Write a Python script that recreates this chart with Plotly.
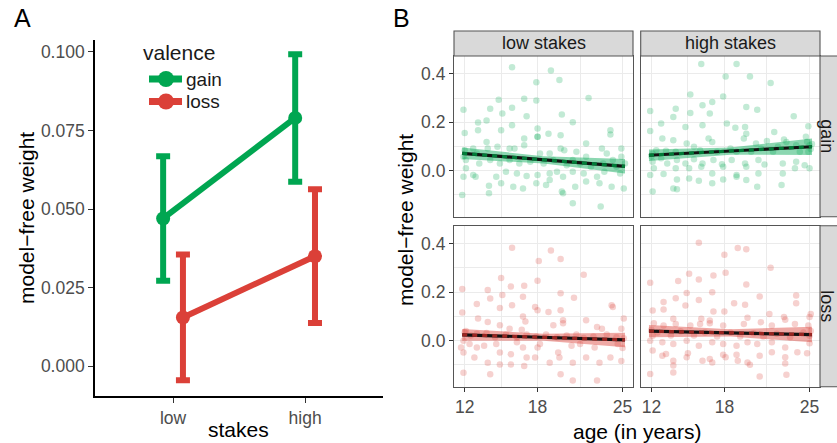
import plotly.graph_objects as go

W, H = 837, 443
FONT = "Liberation Sans, Arial, sans-serif"
GREEN = "#00A651"
RED = "#DB4038"
TICK_GREY = "#4D4D4D"


def fx(p):
    return p / W


def fy(p):
    return 1 - p / H


# ---------------- Panel A: mean model-free weight by stakes and valence
stakes = ["low", "high"]
stake_pos = [1, 2]
dodge = 0.075
gain_mean = [0.047, 0.079]
gain_err = [0.0198, 0.0203]
loss_mean = [0.0155, 0.035]
loss_err = [0.0200, 0.0213]

# ---------------- Panel B: individual weights against age, per facet
gain_low_pts = [
    (11.8, -0.10), (11.9, 0.252), (12.0, 0.156), (13.1, 0.199), (13.1, 0.167), (13.8, 0.208),
    (14.1, 0.256), (14.8, 0.293), (15.1, 0.236), (15.0, 0.167), (15.9, 0.427), (15.9, 0.26),
    (15.9, 0.188), (17.1, 0.225), (16.9, 0.297), (17.9, 0.366), (17.9, 0.29), (19.1, 0.414),
    (19.8, 0.375), (20.0, 0.232), (20.9, 0.20), (22.2, 0.30), (24.0, 0.167), (24.0, 0.15),
    (18.0, 0.174), (18.0, 0.14), (18.9, 0.153), (19.9, 0.147), (22.0, 0.112), (23.2, -0.148),
    (20.9, -0.134), (14.0, -0.093), (14.0, -0.062), (15.0, -0.052), (16.0, -0.066), (16.8, -0.073),
    (17.9, -0.052), (18.7, -0.059), (19.0, -0.038), (20.0, -0.086), (20.1, -0.093), (21.1, -0.066),
    (22.0, -0.045), (23.1, -0.052), (24.1, -0.066), (25.1, -0.073), (12.7, -0.018), (12.9, -0.025),
    (14.6, -0.025), (15.4, -0.004), (16.3, -0.011), (17.1, -0.022), (18.0, -0.018), (19.0, -0.011),
    (19.6, -0.004), (20.1, -0.025), (20.9, -0.004), (21.8, -0.011), (22.9, -0.025), (23.5, -0.004),
    (24.8, -0.011), (12.7, 0.092), (13.0, 0.071), (13.8, 0.119), (13.9, 0.092), (14.7, 0.099),
    (15.7, 0.092), (16.1, 0.092), (16.9, 0.133), (16.9, 0.105), (18.0, 0.14), (18.2, 0.071),
    (19.0, 0.071), (19.9, 0.092), (20.2, 0.085), (20.9, 0.044), (21.2, 0.078), (22.0, 0.058),
    (23.3, 0.092), (23.7, 0.071), (24.9, 0.092), (24.9, 0.058), (24.2, 0.044), (11.9, 0.058),
    (12.1, 0.044), (13.2, 0.03), (14.1, 0.044), (14.9, 0.03), (15.7, 0.044), (16.5, 0.03),
    (17.4, 0.037), (18.5, 0.03), (19.3, 0.044), (20.4, 0.023), (21.5, 0.03), (22.4, 0.016),
    (23.4, 0.03), (24.5, 0.016), (25.2, 0.03), (11.9, -0.025), (12.1, 0.01), (12.0, 0.085),
]

gain_high_pts = [
    (16.1, 0.441), (19.0, 0.441), (18.1, 0.389), (20.1, 0.389), (21.8, 0.362), (15.2, 0.315),
    (17.9, 0.307), (17.0, 0.284), (16.2, 0.27), (14.0, 0.256), (19.8, 0.263), (20.7, 0.252),
    (11.9, 0.247), (15.2, 0.238), (16.8, 0.236), (13.8, 0.222), (23.7, 0.225), (12.8, 0.195),
    (14.8, 0.181), (16.2, 0.188), (18.2, 0.195), (18.9, 0.178), (19.7, 0.181), (24.9, 0.184),
    (11.9, 0.164), (19.8, 0.153), (22.1, 0.16), (12.9, 0.133), (13.8, 0.126), (14.9, 0.112),
    (16.7, 0.133), (17.0, 0.119), (19.6, 0.133), (20.6, 0.112), (21.5, 0.123), (22.9, 0.129),
    (23.1, 0.119), (23.9, 0.105), (24.7, 0.14), (25.0, 0.105), (12.4, 0.085), (13.2, 0.082),
    (14.0, 0.078), (15.5, 0.099), (16.0, 0.085), (17.4, 0.078), (18.5, 0.092), (19.0, 0.078),
    (20.2, 0.078), (21.0, 0.092), (22.0, 0.078), (22.4, 0.099), (24.2, 0.078), (24.9, 0.078),
    (12.1, 0.037), (12.8, 0.051), (13.3, 0.03), (14.1, 0.044), (14.8, 0.03), (15.5, 0.047),
    (16.2, 0.03), (17.1, 0.044), (17.8, 0.027), (18.6, 0.044), (19.7, 0.03), (20.8, 0.044),
    (21.3, 0.026), (22.8, 0.03), (23.9, 0.037), (24.6, 0.023), (12.2, 0.01), (11.9, -0.018),
    (13.0, -0.014), (14.0, 0.01), (15.1, 0.01), (16.1, 0.016), (17.0, -0.011), (17.9, 0.016),
    (19.0, -0.018), (19.8, 0.016), (20.8, -0.011), (22.8, -0.011), (23.8, 0.01), (25.0, 0.01),
    (14.1, -0.036), (15.1, -0.032), (15.9, -0.041), (17.0, -0.052), (17.9, -0.036), (19.0, -0.025),
    (19.8, -0.038), (20.7, -0.066), (22.7, -0.059), (13.8, -0.073), (12.1, -0.086), (14.1, -0.077),
    (12.0, 0.06), (12.1, 0.07), (25.1, 0.09), (25.2, 0.11), (24.8, 0.12),
]

loss_low_pts = [
    (15.9, 0.383), (19.1, 0.372), (19.9, 0.337), (18.1, 0.328), (21.8, 0.272), (15.0, 0.258),
    (11.8, 0.213), (13.9, 0.209), (15.8, 0.223), (16.9, 0.226), (18.0, 0.247), (15.1, 0.188),
    (14.1, 0.174), (19.9, 0.195), (16.8, 0.181), (21.0, 0.177), (13.0, 0.151), (15.9, 0.146),
    (14.9, 0.135), (17.8, 0.139), (18.0, 0.125), (18.9, 0.118), (19.9, 0.125), (24.1, 0.146),
    (24.2, 0.139), (11.8, 0.116), (13.1, 0.091), (13.9, 0.077), (16.8, 0.10), (17.0, 0.079),
    (20.1, 0.084), (20.1, 0.072), (22.0, 0.084), (25.1, 0.091), (14.9, 0.063), (15.7, 0.049),
    (16.7, 0.045), (19.3, 0.063), (22.9, 0.056), (23.3, 0.049), (24.9, 0.049), (12.0, 0.035),
    (12.5, 0.021), (13.0, 0.028), (13.8, 0.031), (14.5, 0.014), (15.4, 0.025), (16.3, 0.014),
    (17.1, 0.025), (17.9, 0.017), (18.7, 0.025), (19.6, 0.014), (20.4, 0.021), (21.2, 0.025),
    (21.8, 0.011), (22.6, 0.017), (23.7, 0.025), (24.5, 0.014), (11.7, -0.028), (11.9, -0.049),
    (12.4, -0.014), (12.8, -0.07), (13.6, -0.021), (13.9, -0.091), (14.1, -0.139), (11.9, -0.132),
    (14.9, -0.049), (14.9, -0.098), (15.8, -0.056), (15.8, -0.098), (16.8, -0.028), (17.1, -0.07),
    (16.9, -0.105), (17.8, -0.07), (18.0, -0.028), (19.0, -0.091), (19.7, -0.049), (19.9, -0.139),
    (19.8, -0.07), (20.9, -0.091), (20.9, -0.164), (21.5, -0.014), (22.0, -0.07), (22.9, -0.164),
    (23.1, -0.091), (24.0, -0.07), (24.9, -0.084), (24.6, -0.014), (18.2, -0.014), (16.3, -0.007),
    (14.6, -0.014), (13.0, -0.028), (20.8, -0.021), (22.7, -0.028), (12.1, 0.04), (11.9, 0.0),
    (25.1, 0.01), (25.0, -0.03),
]

loss_high_pts = [
    (15.9, 0.404), (19.1, 0.382), (19.8, 0.377), (18.0, 0.354), (21.8, 0.301), (18.1, 0.28),
    (15.1, 0.276), (17.1, 0.269), (15.9, 0.252), (14.2, 0.246), (11.9, 0.239), (19.8, 0.232),
    (17.0, 0.20), (14.9, 0.196), (14.0, 0.175), (23.9, 0.186), (20.9, 0.182), (13.0, 0.159),
    (15.9, 0.168), (18.8, 0.154), (23.9, 0.154), (14.8, 0.145), (19.7, 0.148), (13.0, 0.128),
    (12.1, 0.124), (17.1, 0.12), (18.0, 0.12), (21.7, 0.11), (25.1, 0.11), (25.0, 0.097),
    (22.9, 0.097), (19.9, 0.094), (16.1, 0.09), (16.8, 0.083), (13.8, 0.09), (23.0, 0.086),
    (12.2, 0.072), (13.0, 0.062), (14.0, 0.069), (15.2, 0.062), (16.0, 0.069), (16.8, 0.072),
    (17.9, 0.062), (19.6, 0.069), (21.0, 0.076), (21.9, 0.062), (23.8, 0.069), (24.9, 0.062),
    (12.5, 0.034), (13.6, 0.021), (14.4, 0.039), (15.5, 0.021), (16.4, 0.034), (17.4, 0.017),
    (18.5, 0.034), (19.3, 0.017), (20.4, 0.03), (21.2, 0.017), (22.3, 0.028), (23.4, 0.014),
    (24.5, 0.034), (11.9, 0.0), (12.9, -0.007), (13.8, -0.014), (14.9, 0.0), (15.9, -0.021),
    (17.0, -0.007), (17.9, -0.014), (19.0, -0.021), (19.9, -0.007), (20.7, -0.014), (21.9, -0.007),
    (23.0, -0.028), (25.0, -0.011), (12.1, -0.041), (12.9, -0.062), (13.2, -0.055), (13.8, -0.083),
    (13.8, -0.103), (13.8, -0.131), (14.9, -0.069), (15.0, -0.052), (16.2, -0.083), (16.8, -0.076),
    (17.0, -0.09), (17.9, -0.058), (18.1, -0.069), (19.0, -0.058), (19.1, -0.083), (19.9, -0.09),
    (20.1, -0.099), (20.9, -0.062), (21.9, -0.048), (23.0, -0.069), (23.0, -0.094), (24.0, -0.048),
    (24.8, -0.052), (11.9, -0.138), (20.9, -0.148), (23.1, -0.141), (12.0, 0.045), (12.1, 0.02),
    (25.1, 0.04), (25.0, 0.02),
]

# linear fit per facet: fitted value and CI half-width at three ages
fit_ages = [11.8, 18.5, 25.2]
gain_low_fit = [0.072, 0.045, 0.018]
gain_low_ci = [0.024, 0.015, 0.030]
gain_high_fit = [0.064, 0.081, 0.099]
gain_high_ci = [0.024, 0.015, 0.034]
loss_low_fit = [0.024, 0.014, 0.003]
loss_low_ci = [0.024, 0.014, 0.030]
loss_high_fit = [0.039, 0.032, 0.025]
loss_high_ci = [0.025, 0.015, 0.032]

age_ticks = [12, 18, 25]
weight_ticks = [0.0, 0.2, 0.4]

fig = go.Figure()

# ---- Panel A traces
for name, means, errs, col, off in [
    ("gain", gain_mean, gain_err, GREEN, -dodge),
    ("loss", loss_mean, loss_err, RED, dodge),
]:
    fig.add_trace(go.Scatter(
        x=[p + off for p in stake_pos], y=means, name=name,
        mode="lines+markers",
        line=dict(color=col, width=6),
        marker=dict(color=col, size=14),
        error_y=dict(type="data", array=errs, color=col, thickness=6, width=7),
        xaxis="x", yaxis="y", showlegend=False,
    ))

# ---- Panel B traces
facets = [
    ("2", gain_low_pts, gain_low_fit, gain_low_ci, "0,166,81", "rgba(0,135,60,0.9)"),
    ("3", gain_high_pts, gain_high_fit, gain_high_ci, "0,166,81", "rgba(0,135,60,0.9)"),
    ("4", loss_low_pts, loss_low_fit, loss_low_ci, "219,64,56", "rgba(170,40,35,0.9)"),
    ("5", loss_high_pts, loss_high_fit, loss_high_ci, "219,64,56", "rgba(170,40,35,0.9)"),
]
for k, pts, fit, ci, rgb, dash_col in facets:
    xa, ya = "x" + k, "y" + k
    ages = [p[0] for p in pts]
    vals = [p[1] for p in pts]
    fig.add_trace(go.Scatter(
        x=ages, y=vals, mode="markers",
        marker=dict(size=6.5, color=f"rgba({rgb},0.24)", line=dict(width=0)),
        xaxis=xa, yaxis=ya, showlegend=False, hoverinfo="skip",
    ))
    upper = [f + c for f, c in zip(fit, ci)]
    lower = [f - c for f, c in zip(fit, ci)]
    fig.add_trace(go.Scatter(
        x=fit_ages + fit_ages[::-1], y=upper + lower[::-1],
        fill="toself", fillcolor=f"rgba({rgb},0.45)", line=dict(width=0),
        mode="lines", xaxis=xa, yaxis=ya, showlegend=False, hoverinfo="skip",
    ))
    fig.add_trace(go.Scatter(
        x=fit_ages, y=fit, mode="lines", line=dict(color="#111111", width=3.2),
        xaxis=xa, yaxis=ya, showlegend=False, hoverinfo="skip",
    ))
    fig.add_trace(go.Scatter(
        x=fit_ages, y=fit, mode="lines",
        line=dict(color=dash_col, width=3.2, dash="5px,5px"),
        xaxis=xa, yaxis=ya, showlegend=False, hoverinfo="skip",
    ))

# ---- axes
tickfont = dict(family=FONT, size=17.5, color=TICK_GREY)

layout = dict(
    width=W, height=H, autosize=False,
    margin=dict(l=0, r=0, t=0, b=0),
    paper_bgcolor="white", plot_bgcolor="white",
    font=dict(family=FONT, color="#000000"),
    showlegend=False,
    xaxis=dict(
        domain=[fx(95), fx(383)], range=[0.409, 2.59], anchor="y",
        tickvals=stake_pos, ticktext=stakes, tickfont=tickfont,
        showline=True, linecolor="#000000", linewidth=1.6,
        ticks="outside", ticklen=5, tickwidth=1.4, tickcolor="#333333",
        showgrid=False, zeroline=False, fixedrange=True,
    ),
    yaxis=dict(
        domain=[fy(396), fy(40)], range=[-0.0095, 0.1038], anchor="x",
        tickvals=[0, 0.025, 0.05, 0.075, 0.1],
        ticktext=["0.000", "0.025", "0.050", "0.075", "0.100"], tickfont=tickfont,
        showline=True, linecolor="#000000", linewidth=1.6,
        ticks="outside", ticklen=5, tickwidth=1.4, tickcolor="#333333",
        showgrid=False, zeroline=False, fixedrange=True,
    ),
)

col_px = {"2": (454, 633), "3": (640.7, 820), "4": (454, 633), "5": (640.7, 820)}
row_px = {"2": (56, 216.7), "3": (56, 216.7), "4": (225.7, 386.7), "5": (225.7, 386.7)}
for k in ["2", "3", "4", "5"]:
    x0, x1 = col_px[k]
    y0, y1 = row_px[k]
    bottom = k in ("4", "5")
    left = k in ("2", "4")
    layout["xaxis" + k] = dict(
        domain=[fx(x0), fx(x1)], range=[11.12, 25.86], anchor="y" + k,
        tickvals=age_ticks, ticktext=[str(a) for a in age_ticks],
        showticklabels=bottom, tickfont=tickfont,
        ticks="outside" if bottom else "", ticklen=4, tickwidth=1, tickcolor="#333333",
        showgrid=True, gridcolor="#EBEBEB", gridwidth=1.2,
        minor=dict(tickvals=[15, 21.5], showgrid=True, gridcolor="#EBEBEB", gridwidth=0.6, ticks=""),
        showline=True, mirror=True, linecolor="#555555", linewidth=1.1,
        zeroline=False, fixedrange=True,
    )
    layout["yaxis" + k] = dict(
        domain=[fy(y1), fy(y0)], range=[-0.19, 0.474], anchor="x" + k,
        tickvals=weight_ticks, ticktext=[f"{v:.1f}" for v in weight_ticks],
        showticklabels=left, tickfont=tickfont,
        ticks="outside" if left else "", ticklen=4, tickwidth=1, tickcolor="#333333",
        showgrid=True, gridcolor="#EBEBEB", gridwidth=1.2,
        minor=dict(tickvals=[-0.1, 0.1, 0.3], showgrid=True, gridcolor="#EBEBEB", gridwidth=0.6, ticks=""),
        showline=True, mirror=True, linecolor="#555555", linewidth=1.1,
        zeroline=False, fixedrange=True,
    )

fig.update_layout(**layout)

# ---- legend for panel A (valence key: line through a dot, then the label)
fig.add_annotation(x=fx(141), y=fy(52), xref="paper", yref="paper", text="valence",
                   showarrow=False, xanchor="left", yanchor="middle",
                   font=dict(family=FONT, size=21, color="#1A1A1A"))
for label, col, ky in [("gain", GREEN, 79), ("loss", RED, 101.5)]:
    fig.add_shape(type="line", xref="paper", yref="paper",
                  x0=fx(149), x1=fx(182), y0=fy(ky), y1=fy(ky),
                  line=dict(color=col, width=7))
    fig.add_shape(type="circle", xref="paper", yref="paper",
                  x0=fx(158), x1=fx(174), y0=fy(ky + 8), y1=fy(ky - 8),
                  fillcolor=col, line=dict(color=col, width=0))
    fig.add_annotation(x=fx(184), y=fy(ky), xref="paper", yref="paper", text=label,
                       showarrow=False, xanchor="left", yanchor="middle",
                       font=dict(family=FONT, size=19, color="#1A1A1A"))

# ---- facet strips
STRIP_FILL = "#D9D9D9"
STRIP_LINE = "#555555"
strips = [
    ((454, 31, 633, 56), "low stakes", 0),
    ((640.7, 31, 820, 56), "high stakes", 0),
    ((820, 56, 846, 216.7), "gain", 90),
    ((820, 225.7, 846, 386.7), "loss", 90),
]
for (sx0, sy0, sx1, sy1), label, ang in strips:
    fig.add_shape(type="rect", xref="paper", yref="paper",
                  x0=fx(sx0), x1=fx(sx1), y0=fy(sy1), y1=fy(sy0),
                  fillcolor=STRIP_FILL, line=dict(color=STRIP_LINE, width=1.1), layer="above")
    cx = (sx0 + sx1) / 2 if ang == 0 else 827
    cy = (sy0 + sy1) / 2
    fig.add_annotation(x=fx(cx), y=fy(cy), xref="paper", yref="paper",
                       text=label, showarrow=False, textangle=ang,
                       xanchor="center", yanchor="middle",
                       font=dict(family=FONT, size=18, color="#1A1A1A"))

# ---- titles and panel letters
texts = [
    ("A", 22, 18, 0, 25),
    ("B", 401, 18, 0, 25),
    ("model\u2212free weight", 26, 218, -90, 21),
    ("stakes", 238, 429, 0, 21),
    ("model\u2212free weight", 406, 220, -90, 21),
    ("age (in years)", 637, 431, 0, 21),
]
for txt, tx, ty, ang, size in texts:
    fig.add_annotation(x=fx(tx), y=fy(ty), xref="paper", yref="paper",
                       text=txt, showarrow=False, textangle=ang,
                       xanchor="center", yanchor="middle",
                       font=dict(family=FONT, size=size, color="#000000"))

fig.write_html("out.html")
